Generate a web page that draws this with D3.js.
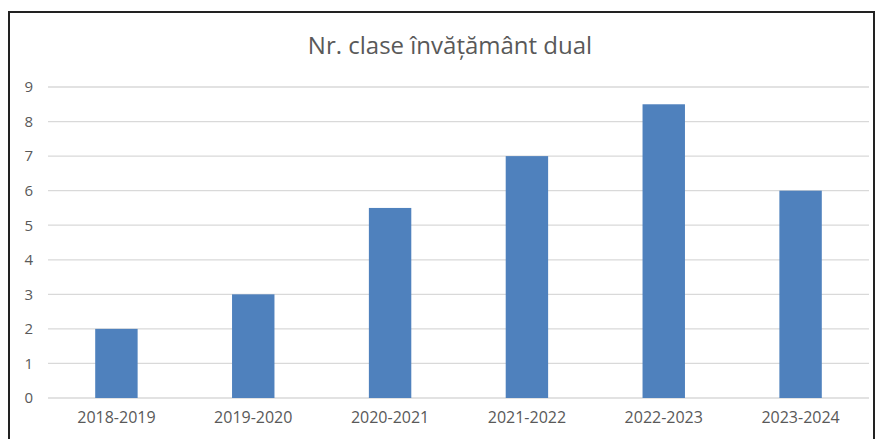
<!DOCTYPE html>
<html>
<head>
<meta charset="utf-8">
<script src="https://cdn.jsdelivr.net/npm/d3@7"></script>
<style>
  body { margin: 0; background: #fff; }
  svg text { font-family: "Open Sans", sans-serif; fill: #595959; }
</style>
</head>
<body>
<div class="chart"></div>
<script>
// data
var years  = ['2018-2019', '2019-2020', '2020-2021', '2021-2022', '2022-2023', '2023-2024'];
var values = [2, 3, 5.5, 7, 8.5, 6];
var yTicks = [0, 1, 2, 3, 4, 5, 6, 7, 8, 9];
var title  = 'Nr. clase învățământ dual';

var W = 877, H = 439;
var margin = { top: 87, right: 8, bottom: 41, left: 48 },
    width  = W - margin.left - margin.right,
    height = H - margin.top - margin.bottom;

var x = d3.scaleBand().domain(years).range([0, width]).paddingInner(0.69).paddingOuter(0.345);
var y = d3.scaleLinear().domain([0, 9]).range([height, 0]);

var svg = d3.select('.chart')
    .append('svg')
    .attr('width', W)
    .attr('height', H);

// outer frame
svg.append('rect')
    .attr('x', 9).attr('y', 12)
    .attr('width', W - 12).attr('height', H)
    .attr('fill', 'none')
    .attr('stroke', '#222')
    .attr('stroke-width', 2);

svg.append('text')
    .attr('x', 450)
    .attr('y', 54)
    .attr('text-anchor', 'middle')
    .attr('font-size', 24)
    .text(title);

var g = svg.append('g')
    .attr('transform', 'translate(' + margin.left + ',' + margin.top + ')');

// gridlines
g.selectAll('.grid')
    .data(yTicks)
    .enter()
    .append('line')
    .attr('x1', 0).attr('x2', width)
    .attr('y1', function(d){ return y(d); })
    .attr('y2', function(d){ return y(d); })
    .attr('stroke', '#d9d9d9')
    .attr('stroke-width', 1.3);

var yAxis = d3.axisLeft(y).tickValues(yTicks).tickSize(0).tickPadding(15);
g.append('g')
    .call(yAxis)
    .call(function(a){ a.select('.domain').remove(); })
    .selectAll('text')
    .attr('font-size', 15)
    .style('font-family', '"Open Sans", sans-serif')
    .attr('fill', '#595959');

g.selectAll('rect')
    .data(values)
    .enter()
    .append('rect')
    .attr('fill', '#4f81bd')
    .attr('x', function(d, i){ return x(years[i]); })
    .attr('width', x.bandwidth())
    .attr('y', function(d){ return y(d); })
    .attr('height', function(d){ return height - y(d); });

var xAxis = d3.axisBottom(x).tickSize(0).tickPadding(14);
g.append('g')
    .attr('transform', 'translate(0,' + height + ')')
    .call(xAxis)
    .call(function(a){ a.select('.domain').remove(); })
    .selectAll('text')
    .attr('font-size', 16)
    .style('font-family', '"Open Sans", sans-serif')
    .attr('fill', '#595959');
</script>
</body>
</html>
